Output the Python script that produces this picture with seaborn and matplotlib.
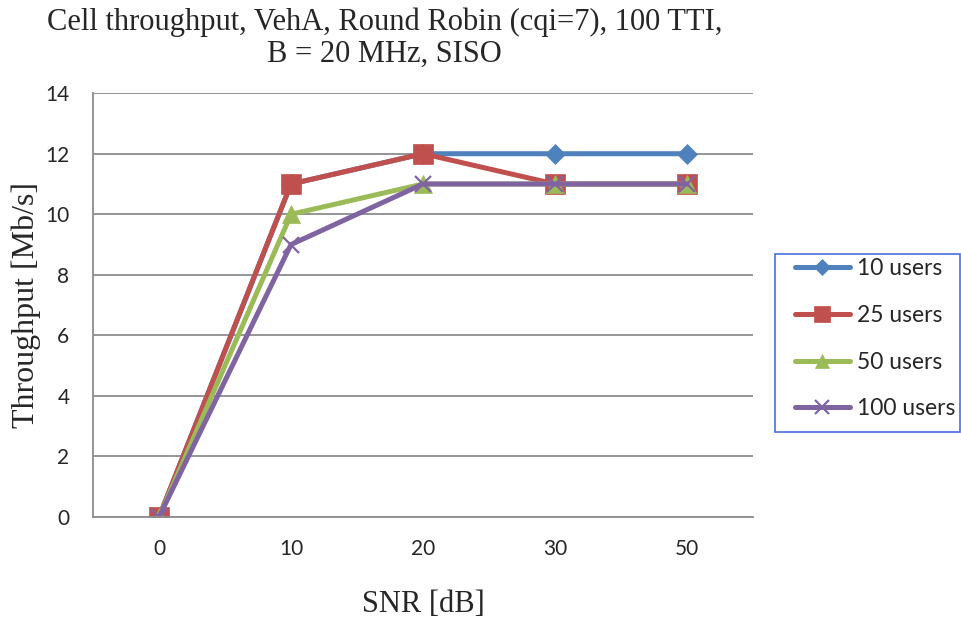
import matplotlib
matplotlib.use("Agg")
import matplotlib.pyplot as plt
import seaborn as sns
import pandas as pd
from matplotlib.patches import Rectangle
from matplotlib.ticker import FixedLocator

# SNR categories and throughput (Mb/s) per user count
snr_labels = ["0", "10", "20", "30", "50"]
users_10 = [0, 11, 12, 12, 12]
users_25 = [0, 11, 12, 11, 11]
users_50 = [0, 10, 11, 11, 11]
users_100 = [0, 9, 11, 11, 11]
y_ticks = [0, 2, 4, 6, 8, 10, 12, 14]

series_names = ["10 users", "25 users", "50 users", "100 users"]
series_values = [users_10, users_25, users_50, users_100]
colors = ["#4F81BD", "#C0504D", "#9BBB59", "#8064A2"]
markers = ["D", "s", "^", "x"]
marker_sizes = [10, 14, 13, 12]

rows = []
for name, vals in zip(series_names, series_values):
    for lab, v in zip(snr_labels, vals):
        rows.append({"SNR": lab, "Throughput": v, "Users": name})
df = pd.DataFrame(rows)

sns.set_style("white")
plt.rcParams["font.family"] = ["Liberation Serif", "DejaVu Serif"]

fig = plt.figure(figsize=(9.62, 6.17), dpi=100)
ax = fig.add_axes([0.0967, 0.162, 0.686, 0.687])

for name, col, mk, ms in zip(series_names, colors, markers, marker_sizes):
    sub = df[df["Users"] == name]
    sns.pointplot(data=sub, x="SNR", y="Throughput", order=snr_labels,
                  color=col, marker=mk, markersize=ms, linewidth=3.6,
                  markeredgewidth=1.6 if mk == "x" else 0.5,
                  markeredgecolor=col, label=name, ax=ax, errorbar=None)

ax.set_xlim(-0.5, len(snr_labels) - 0.5)
ax.set_ylim(0, 14)
ax.grid(axis="y", color="#8c8c8c", linewidth=1.3)
ax.set_axisbelow(True)

for s in ["top", "right"]:
    ax.spines[s].set_visible(False)
for s in ["left", "bottom"]:
    ax.spines[s].set_color("#8c8c8c")
    ax.spines[s].set_linewidth(1.3)

# tick marks at category boundaries, labels at category centres
ax.xaxis.set_minor_locator(FixedLocator([i - 0.5 for i in range(len(snr_labels) + 1)]))
ax.tick_params(axis="x", which="major", length=0, pad=16)
ax.tick_params(axis="x", which="minor", length=7, width=1.3, color="#8c8c8c", direction="out")
ax.tick_params(axis="y", which="major", length=7, width=1.3, color="#8c8c8c", direction="out", pad=10)
tick_font = {"family": ["Lato", "DejaVu Sans"], "size": 15}
ax.set_xticks(range(len(snr_labels)))
ax.set_xticklabels(snr_labels, **tick_font)
ax.set_yticks(y_ticks)
ax.set_yticklabels([str(v) for v in y_ticks], **tick_font)

ax.set_xlabel("SNR [dB]", fontsize=22, labelpad=22)
ax.set_ylabel("Throughput [Mb/s]", fontsize=23, labelpad=3)
fig.suptitle("Cell throughput, VehA, Round Robin (cqi=7), 100 TTI,\nB = 20 MHz, SISO",
             fontsize=22, x=0.4, y=0.988, linespacing=1.12)

# legend frame with blue border, beside the plot
fig.patches.append(Rectangle((0.806, 0.300), 0.192, 0.288, transform=fig.transFigure,
                             facecolor="none", edgecolor="#4a6fe0", linewidth=1.2,
                             zorder=-1))
leg = ax.legend(loc="upper left", bbox_to_anchor=(0.824, 0.586),
                bbox_transform=fig.transFigure, frameon=False,
                prop={"family": ["Lato", "DejaVu Sans"], "size": 16.5},
                handlelength=2.4, handletextpad=0.3, labelspacing=1.13,
                markerscale=0.8, borderpad=0.1, borderaxespad=0)

fig.savefig("out.png", dpi=100)
